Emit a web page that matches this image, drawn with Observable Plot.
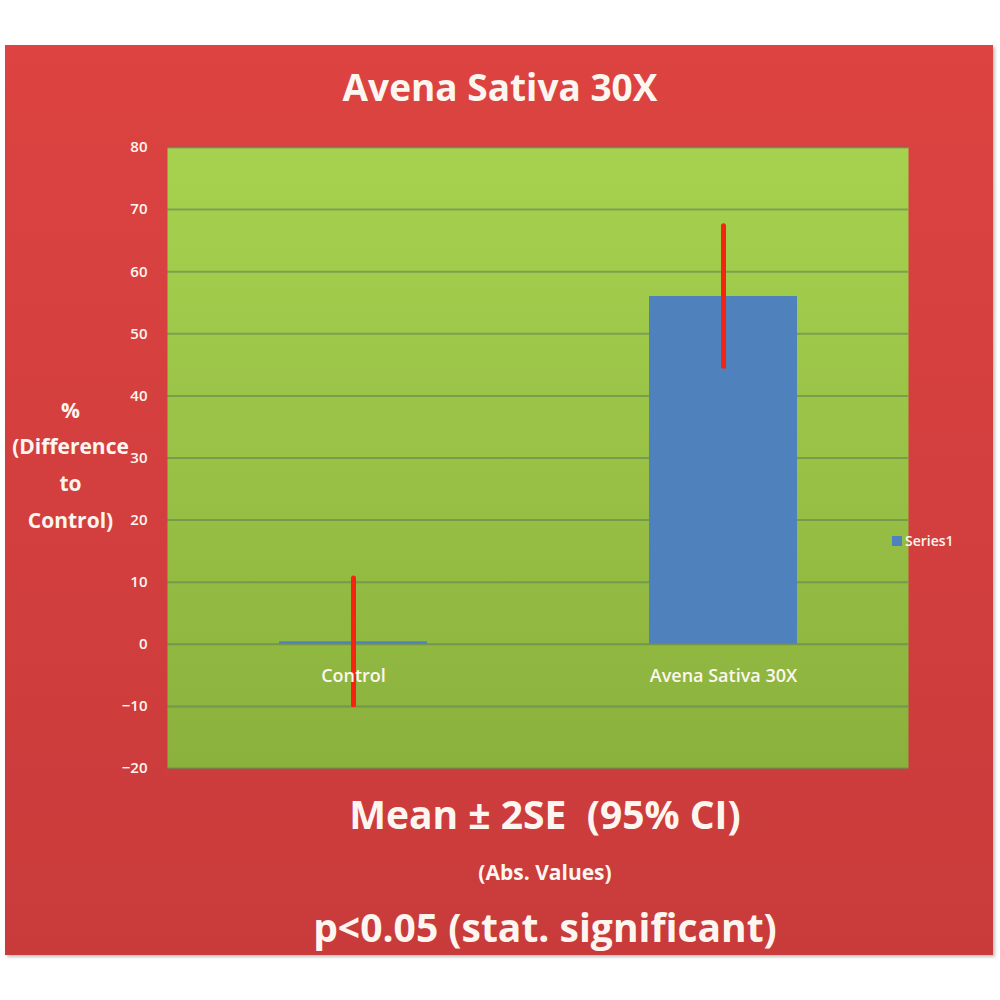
<!DOCTYPE html>
<html>
<head>
<meta charset="utf-8">
<script src="https://cdn.jsdelivr.net/npm/d3@7"></script>
<script src="https://cdn.jsdelivr.net/npm/@observablehq/plot@0.6"></script>
<style>
  html, body { margin: 0; padding: 0; background: #ffffff; }
  #wrap { position: relative; width: 1000px; height: 1000px; overflow: hidden; font-family: "Open Sans", Lato, sans-serif; }
  #panel {
    position: absolute; left: 5px; top: 45px; width: 988px; height: 910px;
    background: linear-gradient(#dc4341, #c93b3b);
    box-shadow: 2px 2px 3px rgba(0,0,0,0.25);
  }
  #chart { position: absolute; left: 0; top: 0; }
  .txt { position: absolute; text-align: center; color: #fdf6f0; font-weight: 700; white-space: pre; line-height: 1; }
  .full { left: 0; width: 1000px; }
  .under { left: 90px; width: 910px; }
  #legend { position: absolute; left: 892px; top: 532px; display: flex; align-items: center; gap: 3px; color: #fdf6f0; font-size: 14px; font-weight: 600; line-height: 18px; }
  #legend span.sw { width: 10px; height: 10px; background: #4f81bd; display: inline-block; }
</style>
</head>
<body>
<div id="wrap">
  <div id="panel"></div>
  <svg width="0" height="0" style="position:absolute">
    <defs>
      <linearGradient id="plotGreen" x1="0" y1="0" x2="0" y2="1">
        <stop offset="0" stop-color="#a6d24f"/>
        <stop offset="1" stop-color="#8bb13d"/>
      </linearGradient>
    </defs>
  </svg>
  <div id="chart"></div>
  <div class="txt full" style="top:68px; font-size:37px;">Avena Sativa 30X</div>
  <div class="txt under" style="top:794px; font-size:39px;">Mean ± 2SE  (95% CI)</div>
  <div class="txt under" style="top:862px; font-size:21px;">(Abs. Values)</div>
  <div class="txt under" style="top:907px; font-size:39px;">p&lt;0.05 (stat. significant)</div>
  <div id="legend"><span class="sw"></span><span>Series1</span></div>
</div>
<script>
// Groups and their mean % difference to control, with ±2SE half-widths
const categories = ["Control", "Avena Sativa 30X"];
const means = [0.4, 56];
const halfWidths = [10.2, 11.3];
const yTicks = [-20, -10, 0, 10, 20, 30, 40, 50, 60, 70, 80];
const yLabel = "%\n(Difference\nto\nControl)";

const rows = categories.map((cat, i) => ({
  cat,
  mean: means[i],
  lo: means[i] - halfWidths[i],
  hi: means[i] + halfWidths[i]
}));

const white = "#fdf6f0";

const chart = Plot.plot({
  width: 1000,
  height: 1000,
  marginLeft: 167,
  marginRight: 92,
  marginTop: 147,
  marginBottom: 232,
  style: { background: "transparent", fontFamily: "'Open Sans', Lato, sans-serif" },
  x: { domain: categories, paddingInner: 0.6, paddingOuter: 0.3, axis: null },
  y: { domain: [-20, 80], axis: null },
  marks: [
    Plot.frame({ fill: "url(#plotGreen)", stroke: null }),
    Plot.gridY(yTicks, { stroke: "#5d7d55", strokeOpacity: 0.55, strokeWidth: 2 }),
    Plot.barY(rows, { x: "cat", y: "mean", fill: "#4f81bd" }),
    Plot.ruleX(rows, { x: "cat", y1: "lo", y2: "hi", stroke: "#f5230f", strokeWidth: 5, strokeLinecap: "round" }),
    Plot.text([yLabel], { frameAnchor: "left", dx: -97, dy: 3, text: d => d, fill: white, fontSize: 21, fontWeight: "bold", lineHeight: 1.75, textAnchor: "middle" }),
    Plot.axisY(yTicks, { tickSize: 0, tickPadding: 20, fill: white, fontSize: 15, fontWeight: 600, label: null }),
    Plot.text(rows, { x: "cat", y: () => 0, dy: 32, text: "cat", fill: white, fontSize: 18, fontWeight: 600 })
  ]
});
document.getElementById("chart").appendChild(chart);
</script>
</body>
</html>
